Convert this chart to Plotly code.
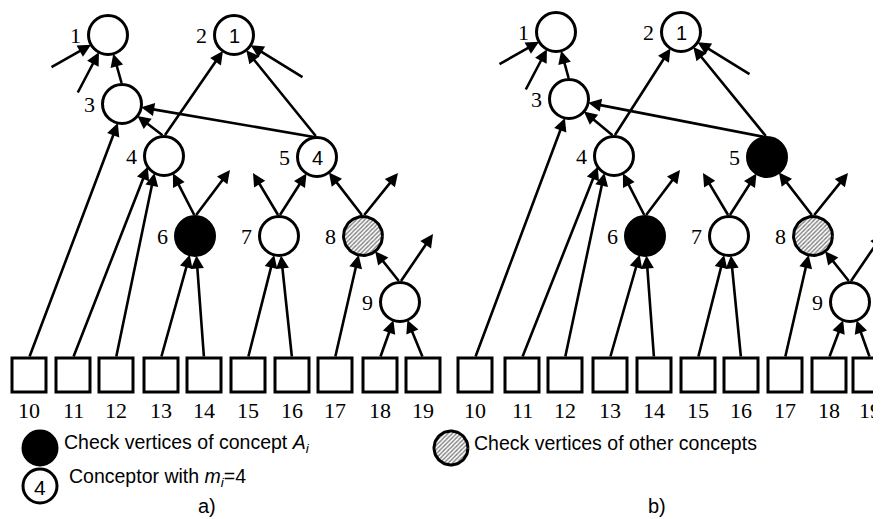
import numpy as np
import plotly.graph_objects as go

W, H = 881, 519
PAGE_OFF = 8  # default body margin of the page

# ---- diagram data (picture coordinates, px) ----
node_ids = [1, 2, 3, 4, 5, 6, 7, 8, 9]
node_x_a = [108, 234, 122, 164, 317, 195, 279, 363, 400]
node_y_a = [35, 35, 104, 156, 157, 236, 236, 236, 302]
node_x_b = [556, 681, 569, 614, 767, 645, 729, 813, 850]
node_y_b = [32, 32, 99, 156, 157, 236, 236, 236, 302]
node_state_a = ["open", "open", "open", "open", "open", "check", "open", "other", "open"]
node_state_b = ["open", "open", "open", "open", "check", "check", "open", "other", "open"]
inner_label_a = {2: "1", 5: "4"}
inner_label_b = {2: "1"}

input_ids = [10, 11, 12, 13, 14, 15, 16, 17, 18, 19]
input_x_a = [29, 73, 116, 161, 204, 248, 292, 335, 380, 423]
input_x_b = [475, 522, 565, 610, 654, 698, 741, 785, 829, 870]
input_top = 358

node_edges = [(3, 1), (4, 2), (5, 2), (5, 3), (4, 3), (6, 4), (7, 5), (8, 5), (9, 8)]
input_edges = [(10, 3), (11, 4), (12, 4), (13, 6), (14, 6), (15, 7), (16, 7), (17, 8), (18, 9), (19, 9)]
input_aim_dx = {11: -12, 12: -6, 10: 3}
stub_in = [(1, -58, 33), (1, -31, 59), (2, 70, 43)]
stub_out = [(6, 35, -66), (7, -26, -63), (8, 35, -63), (9, 33, -68)]

legend_texts = ["Check vertices of concept <i>A<sub>i</sub></i>",
                "Check vertices of other concepts",
                "Conceptor with <i>m<sub>i</sub></i>=4"]
panel_titles = ["a)", "b)"]

# ---- styles ----
R = 19.5
SQ = 34
LW = 3
SERIF = "Liberation Serif, Times New Roman, serif"
SANS = "Liberation Sans, Arial, sans-serif"

fig = go.Figure()
shapes = []
annotations = []


def circle(cx, cy, r, fill):
    shapes.append(dict(type="circle", xref="x", yref="y", x0=cx - r, x1=cx + r,
                       y0=cy - r, y1=cy + r, line=dict(color="black", width=LW),
                       fillcolor=fill, layer="above"))


def hatched(cx, cy, r):
    t = np.linspace(0, 2 * np.pi, 80)
    fig.add_trace(go.Scatter(x=cx + r * np.cos(t), y=cy + r * np.sin(t), mode="lines",
                             fill="toself", line=dict(color="black", width=LW),
                             fillcolor="white",
                             fillpattern=dict(shape="/", fgcolor="black", bgcolor="white",
                                              size=3, solidity=0.45),
                             hoverinfo="skip", showlegend=False))


def arrow(x0, y0, x1, y1):
    annotations.append(dict(x=x1, y=y1, ax=x0, ay=y0, xref="x", yref="y", axref="x",
                            ayref="y", text="", showarrow=True, arrowhead=2,
                            arrowsize=1.0, arrowwidth=2.6, arrowcolor="black",
                            standoff=0, startstandoff=0))


def to_boundary(sx, sy, cx, cy, aim=0.0):
    d = np.array([cx + aim - sx, cy - sy], dtype=float)
    d /= np.hypot(*d)
    # intersect ray toward aim point with circle around (cx, cy)
    px, py = sx - cx, sy - cy
    b = px * d[0] + py * d[1]
    c = px * px + py * py - R * R
    tt = -b - np.sqrt(max(b * b - c, 0))
    return sx + tt * d[0], sy + tt * d[1]


def panel(nx, ny, states, inner, sqx):
    pos = {nid: (x, y) for nid, x, y in zip(node_ids, nx, ny)}
    for s, t in node_edges:
        sx, sy = pos[s][0], pos[s][1] - R
        ex, ey = to_boundary(sx, sy, *pos[t])
        arrow(sx, sy, ex, ey)
    for (s, t) in input_edges:
        sx = sqx[input_ids.index(s)]
        sy = input_top
        ex, ey = to_boundary(sx, sy, *pos[t], aim=input_aim_dx.get(s, 0))
        arrow(sx, sy, ex, ey)
    for t, dx, dy in stub_in:
        cx, cy = pos[t]
        sx, sy = cx + dx, cy + dy
        ex, ey = to_boundary(sx, sy, cx, cy)
        arrow(sx, sy, ex, ey)
    for s, dx, dy in stub_out:
        cx, cy = pos[s]
        arrow(cx, cy - R, cx + dx, cy + dy)
    for nid, st in zip(node_ids, states):
        cx, cy = pos[nid]
        if st == "other":
            hatched(cx, cy, R)
        else:
            circle(cx, cy, R, "black" if st == "check" else "white")
        annotations.append(dict(x=cx - 33, y=cy, text=str(nid), showarrow=False,
                                xref="x", yref="y", font=dict(family=SERIF, size=22, color="black")))
        if nid in inner:
            annotations.append(dict(x=cx, y=cy + 1, text=inner[nid], showarrow=False,
                                    xref="x", yref="y", font=dict(family=SANS, size=20, color="black")))
    for iid, x in zip(input_ids, sqx):
        shapes.append(dict(type="rect", xref="x", yref="y", x0=x - SQ / 2, x1=x + SQ / 2,
                           y0=input_top, y1=input_top + SQ, line=dict(color="black", width=LW),
                           fillcolor="white"))
        annotations.append(dict(x=x, y=410, text=str(iid), showarrow=False, xref="x", yref="y",
                                font=dict(family=SERIF, size=22, color="black")))


panel(node_x_a, node_y_a, node_state_a, inner_label_a, input_x_a)
panel(node_x_b, node_y_b, node_state_b, inner_label_b, input_x_b)

# legend
circle(40, 448, 17, "black")
hatched(451, 448, 17)
circle(40, 486, 17, "white")
annotations.append(dict(x=40, y=487, text="4", showarrow=False, xref="x", yref="y",
                        font=dict(family=SANS, size=21, color="black")))
for txt, x, y in zip(legend_texts, [62, 472, 67], [443, 443, 477]):
    annotations.append(dict(x=x, y=y, text=txt, showarrow=False, xref="x", yref="y",
                            xanchor="left", font=dict(family=SANS, size=19.5, color="black")))
for txt, x in zip(panel_titles, [207, 657]):
    annotations.append(dict(x=x, y=506, text=txt, showarrow=False, xref="x", yref="y",
                            font=dict(family=SANS, size=20, color="black")))

fig.update_layout(width=W, height=H, margin=dict(l=0, r=0, t=0, b=0),
                  plot_bgcolor="white", paper_bgcolor="white", showlegend=False,
                  xaxis=dict(range=[PAGE_OFF, W + PAGE_OFF], visible=False, fixedrange=True),
                  yaxis=dict(range=[H + PAGE_OFF, PAGE_OFF], visible=False, fixedrange=True),
                  shapes=shapes, annotations=annotations)
fig.write_html("out.html")
